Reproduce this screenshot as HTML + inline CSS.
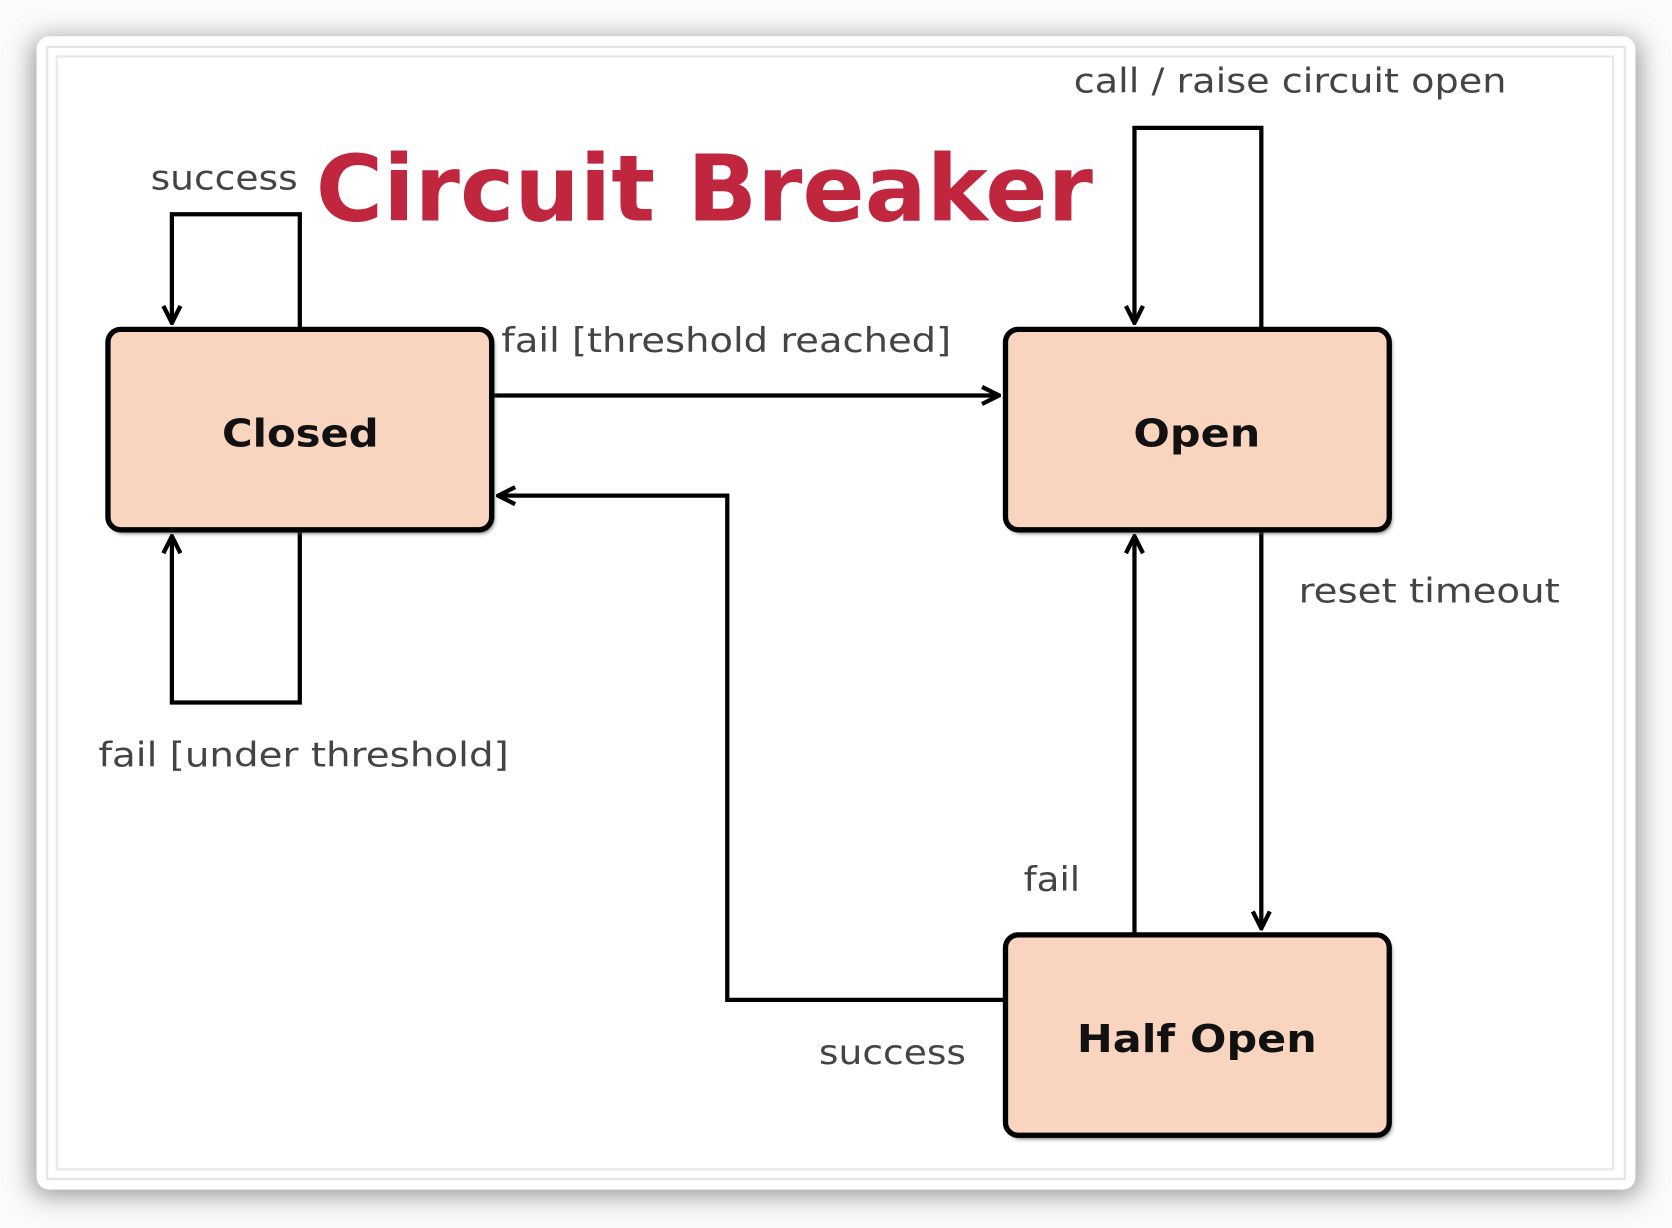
<!DOCTYPE html>
<html><head><meta charset="utf-8"><style>
html,body{margin:0;padding:0;background:#fff;}
svg{display:block;}
text{font-family:"DejaVu Sans","Liberation Sans",sans-serif;}
</style></head><body>
<svg width="1672" height="1228" viewBox="0 0 1568 1152" xmlns="http://www.w3.org/2000/svg">
<defs>
<filter id="sh" x="-5%" y="-5%" width="110%" height="110%"><feGaussianBlur stdDeviation="12"/></filter>
<filter id="bs" x="-5%" y="-5%" width="115%" height="115%"><feGaussianBlur stdDeviation="2"/></filter>
<marker id="a" viewBox="0 0 20 20" refX="18" refY="10" markerWidth="20" markerHeight="20" markerUnits="userSpaceOnUse" orient="auto">
<path d="M2,2 L18,10 L2,18" fill="none" stroke="#000" stroke-width="4"/></marker>
</defs>
<rect x="0" y="0" width="1568" height="1152" fill="#fbfbfb"/>
<rect x="30" y="36" width="1508" height="1086" rx="12" fill="#999" filter="url(#sh)"/>
<rect x="34" y="34" width="1500" height="1082" rx="12" fill="#fff"/>
<rect x="44" y="44" width="1480" height="1062" fill="none" stroke="#e4e4e4" stroke-width="2"/>
<rect x="53" y="53" width="1460" height="1044" fill="none" stroke="#e8e8e8" stroke-width="2"/>

<text x="296" y="207" font-size="86" font-weight="bold" fill="#c0273f" textLength="729" lengthAdjust="spacingAndGlyphs">Circuit Breaker</text>

<g fill="none" stroke="#000" stroke-width="4">
<polyline points="281,309 281,201 161,201 161,303" marker-end="url(#a)"/>
<polyline points="281,497 281,659 161,659 161,503" marker-end="url(#a)"/>
<polyline points="461,371 937,371" marker-end="url(#a)"/>
<polyline points="943,938 682,938 682,465 467,465" marker-end="url(#a)"/>
<polyline points="1183,309 1183,120 1064,120 1064,303" marker-end="url(#a)"/>
<polyline points="1183,497 1183,871" marker-end="url(#a)"/>
<polyline points="1064,877 1064,503" marker-end="url(#a)"/>
</g>

<g>
<rect x="103" y="312" width="360" height="188" rx="12" fill="#555" filter="url(#bs)"/>
<rect x="101" y="309" width="360" height="188" rx="12" fill="#f9d5c0" stroke="#000" stroke-width="5"/>
<rect x="945" y="312" width="360" height="188" rx="12" fill="#555" filter="url(#bs)"/>
<rect x="943" y="309" width="360" height="188" rx="12" fill="#f9d5c0" stroke="#000" stroke-width="5"/>
<rect x="945" y="880" width="360" height="188" rx="12" fill="#555" filter="url(#bs)"/>
<rect x="943" y="877" width="360" height="188" rx="12" fill="#f9d5c0" stroke="#000" stroke-width="5"/>
</g>

<g font-size="36" font-weight="bold" fill="#111">
<text x="208" y="419" textLength="147" lengthAdjust="spacingAndGlyphs">Closed</text>
<text x="1063" y="419" textLength="119" lengthAdjust="spacingAndGlyphs">Open</text>
<text x="1010" y="987" textLength="225" lengthAdjust="spacingAndGlyphs">Half Open</text>
</g>

<g font-size="32" fill="#444">
<text x="141" y="178" textLength="138" lengthAdjust="spacingAndGlyphs">success</text>
<text x="470" y="330" textLength="422" lengthAdjust="spacingAndGlyphs">fail [threshold reached]</text>
<text x="92" y="719" textLength="385" lengthAdjust="spacingAndGlyphs">fail [under threshold]</text>
<text x="1007" y="87" textLength="406" lengthAdjust="spacingAndGlyphs">call / raise circuit open</text>
<text x="1218" y="565" textLength="245" lengthAdjust="spacingAndGlyphs">reset timeout</text>
<text x="960" y="836" textLength="53" lengthAdjust="spacingAndGlyphs">fail</text>
<text x="768" y="998" textLength="138" lengthAdjust="spacingAndGlyphs">success</text>
</g>
</svg>
</body></html>
